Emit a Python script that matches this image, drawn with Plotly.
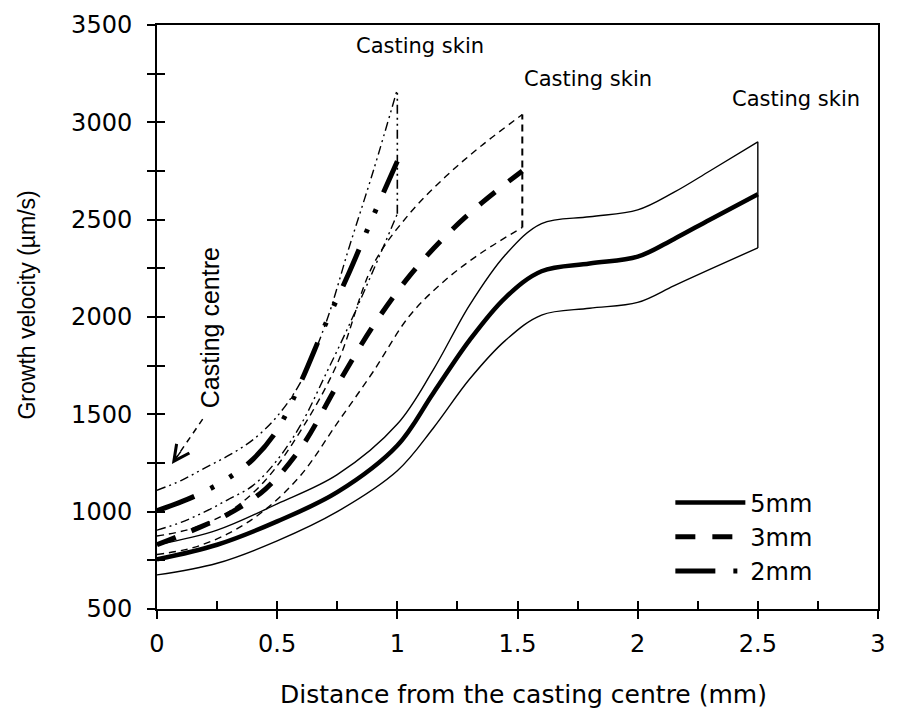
import plotly.graph_objects as go

# ---------------- data ----------------
x_5mm = [0, 0.25, 0.5, 0.75, 1.0, 1.15, 1.3, 1.45, 1.6, 1.8, 2.0, 2.15, 2.3, 2.5]
v_5mm_mid = [755, 830, 950, 1100, 1340, 1610, 1880, 2100, 2235, 2275, 2310, 2400, 2500, 2630]
v_5mm_up = [830, 905, 1040, 1190, 1450, 1730, 2060, 2320, 2480, 2515, 2550, 2640, 2750, 2900]
v_5mm_low = [675, 735, 850, 1000, 1210, 1430, 1680, 1880, 2010, 2045, 2075, 2160, 2245, 2355]

x_3mm = [0, 0.15, 0.3, 0.45, 0.6, 0.75, 0.9, 1.05, 1.2, 1.35, 1.52]
v_3mm_mid = [830, 905, 990, 1115, 1330, 1650, 1955, 2210, 2415, 2585, 2750]
v_3mm_up = [875, 915, 1000, 1160, 1420, 1760, 2270, 2530, 2720, 2880, 3040]
v_3mm_low = [780, 815, 890, 1010, 1190, 1455, 1720, 2005, 2190, 2330, 2460]

x_2mm = [0, 0.1, 0.2, 0.3, 0.4, 0.5, 0.6, 0.7, 0.8, 0.9, 1.0]
v_2mm_up = [1110, 1160, 1225, 1290, 1370, 1490, 1670, 1960, 2360, 2750, 3170]
v_2mm_mid = [1005, 1050, 1105, 1175, 1270, 1420, 1670, 1960, 2230, 2520, 2800]
v_2mm_low = [905, 945, 1000, 1065, 1135, 1265, 1450, 1700, 1960, 2240, 2530]

series_names = ["5mm", "3mm", "2mm"]
x_ticks = [0, 0.5, 1, 1.5, 2, 2.5, 3]
y_ticks = [500, 1000, 1500, 2000, 2500, 3000, 3500]

skin_labels_x = [1.093, 1.794, 2.66]
skin_labels_y = [3392, 3222, 3120]
arrow_tail = (0.19, 1475)
arrow_head = (0.062, 1245)
centre_label = (0.222, 1944)

# ---------------- styles ----------------
HFONT = "DejaVu Sans"
VFONT = "Liberation Sans"
THIN_3 = "7px,5px"
THIN_2 = "9px,4px,2px,4px,2px,4px"
MID_3 = "20px,17px"
MID_2 = "40px,18px,4px,18px,4px,18px"

fig = go.Figure()


def add_line(x, y, width, dash, name=None, legend=False, spline=True, **kw):
    fig.add_trace(go.Scatter(
        x=x, y=y, mode="lines", name=name, showlegend=legend,
        legendgroup=name if legend else None,
        line=dict(color="black", width=width, dash=dash,
                  shape="spline" if spline else "linear", smoothing=1.0),
        hoverinfo="skip", **kw))


# 5 mm
add_line(x_5mm, v_5mm_mid, 4.5, "solid", name=series_names[0], legend=True)
add_line(x_5mm, v_5mm_up, 1.4, "solid")
add_line(x_5mm, v_5mm_low, 1.4, "solid")
add_line([x_5mm[-1], x_5mm[-1]], [v_5mm_low[-1], v_5mm_up[-1]], 1.4, "solid", spline=False)

# 3 mm
add_line(x_3mm, v_3mm_mid, 5, MID_3, name=series_names[1], legend=True)
add_line(x_3mm, v_3mm_up, 1.4, THIN_3)
add_line(x_3mm, v_3mm_low, 1.4, THIN_3)
add_line([x_3mm[-1], x_3mm[-1]], [v_3mm_low[-1], v_3mm_up[-1]], 2, THIN_3, spline=False)

# 2 mm
add_line(x_2mm, v_2mm_mid, 5, MID_2, name=series_names[2], legend=True)
add_line(x_2mm, v_2mm_up, 1.4, THIN_2)
add_line(x_2mm, v_2mm_low, 1.4, THIN_2)
add_line([x_2mm[-1], x_2mm[-1]], [v_2mm_low[-1], v_2mm_up[-1]], 1.6, THIN_2, spline=False)

# dashed arrow line (on overlay axes so they get drawn)
add_line([arrow_tail[0], arrow_head[0]], [arrow_tail[1], arrow_head[1]], 1.5, "6px,5px",
         spline=False, xaxis="x2", yaxis="y2")

annotations = []
for xs, ys in zip(skin_labels_x, skin_labels_y):
    annotations.append(dict(x=xs, y=ys, xref="x", yref="y", text="Casting skin",
                            showarrow=False, font=dict(family=HFONT, size=21, color="black"),
                            xanchor="center", yanchor="middle"))
annotations.append(dict(x=centre_label[0], y=centre_label[1], xref="x", yref="y",
                        text="Casting centre", textangle=-90, showarrow=False,
                        font=dict(family=VFONT, size=25, color="black"),
                        xanchor="center", yanchor="middle"))
# arrow head
annotations.append(dict(x=arrow_head[0], y=arrow_head[1], xref="x", yref="y",
                        ax=10, ay=-14, axref="pixel", ayref="pixel", text="",
                        showarrow=True, arrowhead=5, arrowsize=2.2, arrowwidth=1.4,
                        arrowcolor="black"))
# axis titles
annotations.append(dict(x=0.509, y=-0.147, xref="paper", yref="paper",
                        text="Distance from the casting centre (mm)", showarrow=False,
                        font=dict(family=HFONT, size=25, color="black"),
                        xanchor="center", yanchor="middle"))
annotations.append(dict(x=-0.18, y=0.52, xref="paper", yref="paper",
                        text="Growth velocity (µm/s)", textangle=-90, showarrow=False,
                        font=dict(family=VFONT, size=23, color="black"),
                        xanchor="center", yanchor="middle"))

axis_common = dict(showgrid=False, zeroline=False, tickcolor="black", tickwidth=1.5)

fig.update_layout(
    width=897, height=721,
    margin=dict(l=157, r=11, t=20, b=112),
    paper_bgcolor="white", plot_bgcolor="white",
    font=dict(family=HFONT, size=24, color="black"),
    xaxis=dict(range=[0, 3], tickvals=x_ticks, ticks="outside", ticklen=8,
               showline=True, linewidth=2, linecolor="black", mirror=True,
               tickfont=dict(family=HFONT, size=24), ticklabelstandoff=4, **axis_common),
    yaxis=dict(range=[500, 3500], tickvals=y_ticks, ticks="outside", ticklen=8,
               minor=dict(ticks="outside", ticklen=8, dtick=250, tickcolor="black", tickwidth=1.5),
               showline=True, linewidth=2, linecolor="black", mirror=True,
               tickfont=dict(family=HFONT, size=24), ticklabelstandoff=10, **axis_common),
    xaxis2=dict(range=[0, 3], overlaying="x", anchor="y", tickvals=x_ticks, ticks="inside",
                ticklen=8, showticklabels=False, showline=False,
                minor=dict(ticks="inside", ticklen=8, dtick=0.25, tick0=0, tickcolor="black", tickwidth=1.5),
                **axis_common),
    yaxis2=dict(range=[500, 3500], overlaying="y", anchor="x", tickvals=y_ticks, ticks="inside",
                ticklen=8, showticklabels=False, showline=False,
                minor=dict(ticks="inside", ticklen=8, dtick=250, tickcolor="black", tickwidth=1.5),
                **axis_common),
    legend=dict(x=0.712, y=0.22, xanchor="left", yanchor="top", bgcolor="rgba(0,0,0,0)",
                itemwidth=70, tracegroupgap=0, font=dict(family=HFONT, size=24)),
    annotations=annotations,
    showlegend=True,
)

fig.write_html("out.html")
